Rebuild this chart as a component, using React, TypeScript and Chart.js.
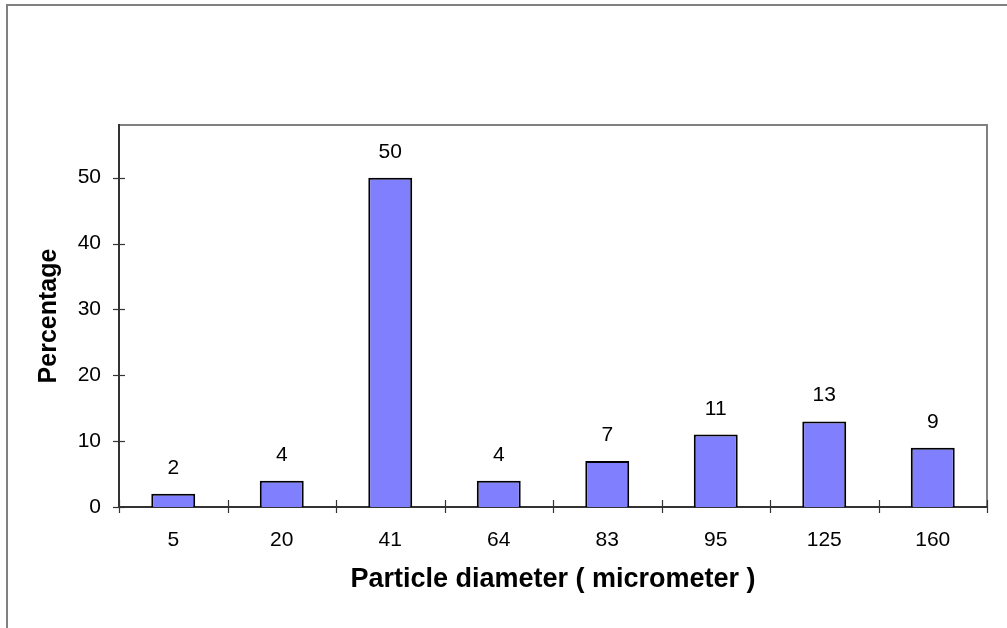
import React, { useEffect, useRef } from "react";
import { Chart, registerables } from "chart.js";

Chart.register(...registerables);

// Particle size distribution
const diameters = ["5", "20", "41", "64", "83", "95", "125", "160"];
const percentages = [2, 4, 50, 4, 7, 11, 13, 9];
const yMin = 0;
const yMax = 58;
const yStep = 10;

const FONT = "'Liberation Sans', Arial, sans-serif";
const AXIS_DARK = "#333333";
const FRAME_GRAY = "#808080";

// Draws the outer frame, the plot box, crossing tick marks and bar value labels
const framePlugin = {
  id: "frameAndLabels",
  beforeDraw(chart: any) {
    const { ctx, chartArea } = chart;
    ctx.save();
    ctx.fillStyle = "#ffffff";
    ctx.fillRect(0, 0, chart.width, chart.height);
    ctx.strokeStyle = FRAME_GRAY;
    ctx.lineWidth = 2;
    ctx.strokeRect(7, 5, chart.width + 40, chart.height + 40);
    ctx.beginPath();
    ctx.moveTo(chartArea.left, chartArea.top);
    ctx.lineTo(chartArea.right, chartArea.top);
    ctx.lineTo(chartArea.right, chartArea.bottom);
    ctx.stroke();
    ctx.restore();
  },
  afterDatasetsDraw(chart: any) {
    const { ctx, chartArea, scales } = chart;
    const xs = scales.x;
    const ys = scales.y;
    ctx.save();
    ctx.strokeStyle = AXIS_DARK;
    ctx.lineWidth = 1.2;
    // y tick marks crossing the axis
    ys.ticks.forEach((t: any) => {
      const py = Math.round(ys.getPixelForValue(t.value)) + 0.5;
      ctx.beginPath();
      ctx.moveTo(chartArea.left - 6, py);
      ctx.lineTo(chartArea.left + 6, py);
      ctx.stroke();
    });
    // x tick marks at category boundaries
    const half = (xs.getPixelForValue(1) - xs.getPixelForValue(0)) / 2;
    for (let i = 0; i <= diameters.length; i++) {
      const px = Math.round(xs.getPixelForValue(i) - half) + 0.5;
      ctx.beginPath();
      ctx.moveTo(px, chartArea.bottom - 7);
      ctx.lineTo(px, chartArea.bottom + 6);
      ctx.stroke();
    }
    // value labels above bars
    ctx.fillStyle = "#000000";
    ctx.font = `21px ${FONT}`;
    ctx.textAlign = "center";
    ctx.textBaseline = "alphabetic";
    const meta = chart.getDatasetMeta(0);
    meta.data.forEach((bar: any, i: number) => {
      ctx.fillText(String(percentages[i]), bar.x, bar.y - 20);
    });
    ctx.restore();
  },
};

export default function App() {
  const canvasRef = useRef<HTMLCanvasElement | null>(null);

  useEffect(() => {
    const canvas = canvasRef.current;
    if (!canvas) return;
    const chart = new Chart(canvas, {
      type: "bar",
      data: {
        labels: diameters,
        datasets: [
          {
            data: percentages,
            backgroundColor: "#8080FF",
            borderColor: "#000000",
            borderWidth: 2,
            borderSkipped: "bottom",
            categoryPercentage: 1,
            barPercentage: 0.405,
          },
        ],
      },
      options: {
        responsive: false,
        animation: false,
        devicePixelRatio: 1,
        layout: { padding: { left: 0, top: 125, right: 20, bottom: 0 } },
        plugins: {
          legend: { display: false },
          tooltip: { enabled: false },
          title: { display: false },
        },
        scales: {
          x: {
            afterFit: (scale: any) => {
              scale.height = 121;
            },
            grid: { display: false, drawTicks: false },
            border: { display: true, color: AXIS_DARK, width: 2 },
            ticks: {
              color: "#000000",
              font: { family: FONT, size: 21 },
              padding: 21,
              maxRotation: 0,
            },
            title: {
              display: true,
              text: "Particle diameter ( micrometer )",
              color: "#000000",
              font: { family: FONT, size: 27, weight: "bold" },
              padding: { top: 0, bottom: 32 },
            },
          },
          y: {
            min: yMin,
            max: yMax,
            afterFit: (scale: any) => {
              scale.width = 119;
            },
            grid: { display: false, drawTicks: false },
            border: { display: true, color: AXIS_DARK, width: 2 },
            ticks: {
              stepSize: yStep,
              includeBounds: false,
              color: "#000000",
              font: { family: FONT, size: 21 },
              padding: 18,
            },
            title: {
              display: true,
              text: "Percentage",
              color: "#000000",
              font: { family: FONT, size: 25, weight: "bold" },
              padding: { top: 34, bottom: 0 },
            },
          },
        },
      },
      plugins: [framePlugin],
    });
    return () => chart.destroy();
  }, []);

  return (
    <div style={{ position: "fixed", left: 0, top: 0, width: 1007, height: 628, background: "#fff" }}>
      <canvas ref={canvasRef} width={1007} height={628} />
    </div>
  );
}
